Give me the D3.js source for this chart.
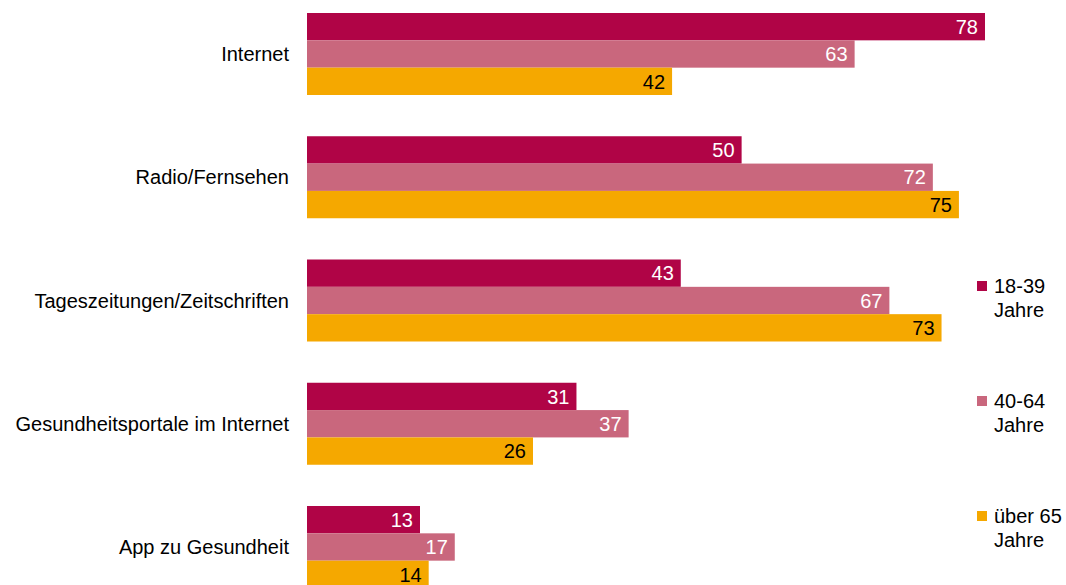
<!DOCTYPE html>
<html>
<head>
<meta charset="utf-8">
<script src="https://cdn.jsdelivr.net/npm/d3@7"></script>
<style>
  body { margin: 0; background: #fff; }
  text { font-family: "Liberation Sans", Arial, sans-serif; }
</style>
</head>
<body>
<div id="chart"></div>
<script>
// categories and series
let categories = ["Internet", "Radio/Fernsehen", "Tageszeitungen/Zeitschriften", "Gesundheitsportale im Internet", "App zu Gesundheit"];
let seriesNames = ["18-39 Jahre", "40-64 Jahre", "über 65 Jahre"];
let seriesLines = [["18-39", "Jahre"], ["40-64", "Jahre"], ["über 65", "Jahre"]];
let values18 = [78, 50, 43, 31, 13];
let values40 = [63, 72, 67, 37, 17];
let values65 = [42, 75, 73, 26, 14];
let colors = ["#b00446", "#c9677d", "#f5a800"];
let labelColors = ["#fff", "#fff", "#000"];

let width = 1066, height = 585;
let seriesValues = [values18, values40, values65];
let fontSize = 20;

let svg = d3.select("#chart").append("svg")
    .attr("width", width)
    .attr("height", height);

// x scale: 0 at the bars' left edge
let x = d3.scaleLinear()
    .domain([0, 78])
    .range([307, 985]);

// outer band: one group per category
let step = 123.25, groupH = 82;
let y = d3.scaleBand()
    .domain(categories)
    .range([13, 13 + categories.length * step - (step - groupH)])
    .paddingInner((step - groupH) / step)
    .paddingOuter(0);

// inner band: one bar per series
let ySub = d3.scaleBand()
    .domain(d3.range(seriesNames.length))
    .range([0, y.bandwidth()]);

let groups = svg.selectAll(".group")
    .data(categories)
    .enter()
    .append("g")
    .attr("class", "group")
    .attr("transform", d => "translate(0," + y(d) + ")");

groups.each(function (cat, ci) {
    let g = d3.select(this);
    seriesValues.forEach(function (vals, si) {
        let v = vals[ci];
        g.append("rect")
            .attr("x", x(0))
            .attr("y", ySub(si))
            .attr("width", x(v) - x(0))
            .attr("height", ySub.bandwidth())
            .attr("fill", colors[si]);
        g.append("text")
            .attr("x", x(v) - 7)
            .attr("y", ySub(si) + ySub.bandwidth() / 2)
            .attr("dy", "0.36em")
            .attr("text-anchor", "end")
            .attr("font-size", fontSize)
            .attr("fill", labelColors[si])
            .text(v);
    });
    // category label
    g.append("text")
        .attr("x", 289)
        .attr("y", y.bandwidth() / 2)
        .attr("dy", "0.36em")
        .attr("text-anchor", "end")
        .attr("font-size", fontSize)
        .attr("fill", "#000")
        .text(cat);
});

// legend
let legend = svg.selectAll(".legend")
    .data(seriesNames)
    .enter()
    .append("g")
    .attr("class", "legend")
    .attr("transform", (d, i) => "translate(977," + (281 + i * 115) + ")");

legend.append("rect")
    .attr("width", 10)
    .attr("height", 10)
    .attr("fill", (d, i) => colors[i]);

legend.each(function (d, i) {
    let t = d3.select(this).append("text")
        .attr("x", 17)
        .attr("y", 12)
        .attr("font-size", fontSize)
        .attr("fill", "#000");
    seriesLines[i].forEach(function (line, li) {
        t.append("tspan")
            .attr("x", 17)
            .attr("dy", li === 0 ? 0 : 24)
            .text(line);
    });
});
</script>
</body>
</html>
